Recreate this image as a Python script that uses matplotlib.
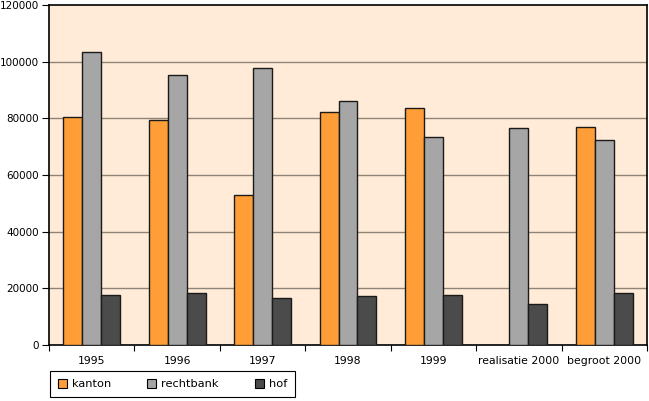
import numpy as np
import matplotlib
matplotlib.use("Agg")
import matplotlib.pyplot as plt

# categories and series
categories = ["1995", "1996", "1997", "1998", "1999", "realisatie 2000", "begroot 2000"]
kanton = [80300, 79400, 52900, 82100, 83500, np.nan, 76800]
rechtbank = [103500, 95400, 97700, 86200, 73400, 76600, 72200]
hof = [17800, 18400, 16600, 17200, 17650, 14500, 18200]
yticks = [0, 20000, 40000, 60000, 80000, 100000, 120000]

series = [("kanton", kanton, "#FF9E37"),
          ("rechtbank", rechtbank, "#A6A6A6"),
          ("hof", hof, "#4B4B4B")]

plt.rcParams['font.family'] = ['DejaVu Sans']

fig = plt.figure(figsize=(6.49, 4.01), dpi=100)
ax = fig.add_axes([49/649, 1-345/401, 598/649, 340/401])
ax.set_facecolor("#FFEBD7")

x = np.arange(len(categories))
w = 0.222
for i, (name, vals, col) in enumerate(series):
    ax.bar(x + (i - 1) * w, vals, width=w, color=col, edgecolor="#1a1a1a",
           linewidth=1.0, label=name, zorder=3)

ax.set_ylim(0, 120000)
ax.set_xlim(-0.5, len(categories) - 0.5)
ax.set_yticks(yticks)
ax.set_yticklabels([str(v) for v in yticks], fontsize=7.5)
for v in yticks[1:-1]:
    ax.axhline(v, color="#8f8276", linewidth=1.0, zorder=1)

ax.set_xticks(x)
ax.set_xticklabels(categories, fontsize=7.8)
ax.set_xticks(np.arange(len(categories) + 1) - 0.5, minor=True)
ax.tick_params(axis='x', which='major', length=0, pad=8)
ax.tick_params(axis='x', which='minor', length=4, width=0.8, direction='out')
ax.tick_params(axis='y', length=5, width=0.8, direction='out', pad=2)

for s in ax.spines.values():
    s.set_color("black")
    s.set_linewidth(1.2)

leg = fig.legend(loc='upper left', bbox_to_anchor=(50/649, 1-371/401),
                 ncol=3, fontsize=8.2, handlelength=0.8, handleheight=0.8,
                 handletextpad=0.4, columnspacing=3.2, borderpad=0.7,
                 borderaxespad=0, fancybox=False, framealpha=1,
                 edgecolor="black")
leg.get_frame().set_linewidth(0.8)
for h in leg.legend_handles:
    h.set_edgecolor("black")
    h.set_linewidth(0.8)

fig.savefig("out.png", dpi=100)
